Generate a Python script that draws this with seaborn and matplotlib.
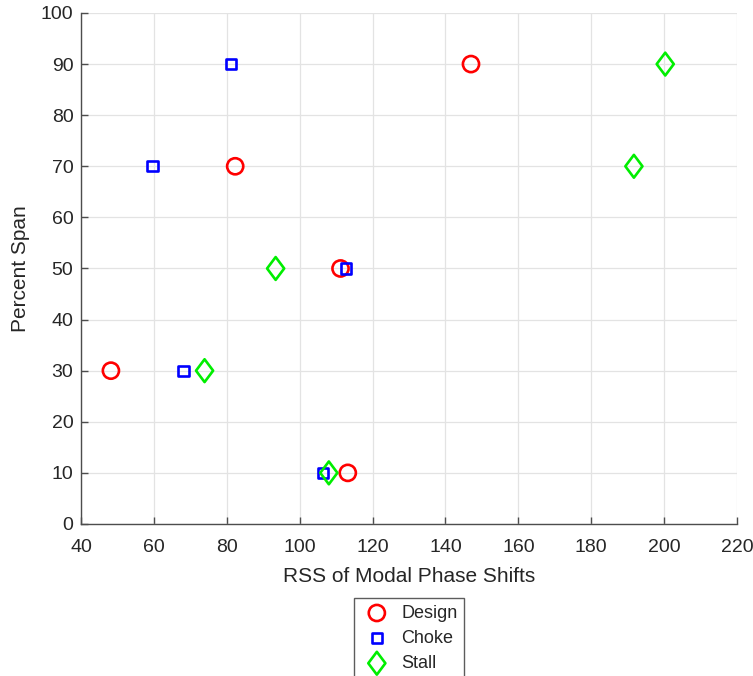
import matplotlib
matplotlib.use("Agg")
import matplotlib.pyplot as plt
from matplotlib.path import Path
import seaborn as sns
import pandas as pd

# Percent span stations and RSS of modal phase shifts per operating point
span = [90, 70, 50, 30, 10]
design = [147.0, 82.3, 111.2, 48.2, 113.2]
choke = [81.2, 59.6, 112.8, 68.1, 106.4]
stall = [200.3, 191.7, 93.4, 73.9, 108.0]

# diamond a little wider than matplotlib's thin 'd'
diamond = Path([(0, 1), (0.75, 0), (0, -1), (-0.75, 0), (0, 1)],
               [Path.MOVETO, Path.LINETO, Path.LINETO, Path.LINETO, Path.CLOSEPOLY])

series = [
    ("Design", design, "o", "#ff0000", 135),
    ("Choke", choke, "s", "#0000ff", 55),
    ("Stall", stall, diamond, "#00ee00", 270),
]

sns.set_style("white")
plt.rcParams["font.family"] = ["Liberation Sans", "DejaVu Sans"]

fig = plt.figure(figsize=(7.53, 6.76), dpi=100)
ax = fig.add_axes([0.1076, 0.2249, 0.8712, 0.7559])

for name, vals, mk, col, size in series:
    df = pd.DataFrame({"rss": vals, "span": span})
    sns.scatterplot(data=df, x="rss", y="span", marker=mk, s=size,
                    facecolors="none", edgecolor=col, linewidth=1.9,
                    label=name, ax=ax, zorder=3)

ax.set_xlim(40, 220)
ax.set_ylim(0, 100)
ax.set_xticks(range(40, 221, 20))
ax.set_yticks(range(0, 101, 10))
ax.grid(True, color="#e3e3e3", linewidth=0.9)
ax.set_axisbelow(True)
for side in ("top", "right"):
    ax.spines[side].set_visible(False)
for side in ("left", "bottom"):
    ax.spines[side].set_color("#4d4d4d")
    ax.spines[side].set_linewidth(1.0)
ax.tick_params(direction="in", length=5, width=1, colors="#4d4d4d",
               labelcolor="#262626", labelsize=14, left=True, bottom=True)
ax.tick_params(axis="x", pad=11)
ax.tick_params(axis="y", pad=5.5)
ax.set_xlabel("RSS of Modal Phase Shifts", fontsize=15, color="#262626", labelpad=8)
ax.set_ylabel("Percent Span", fontsize=15, color="#262626", labelpad=8)

leg = ax.legend(loc="upper center", bbox_to_anchor=(0.5, -0.128), fontsize=13,
                frameon=True, fancybox=False, edgecolor="#333333",
                borderpad=0.35, labelspacing=0.45, handletextpad=0.45,
                handlelength=1.8)
leg.get_frame().set_linewidth(1.0)

fig.savefig("out.png", dpi=100)
